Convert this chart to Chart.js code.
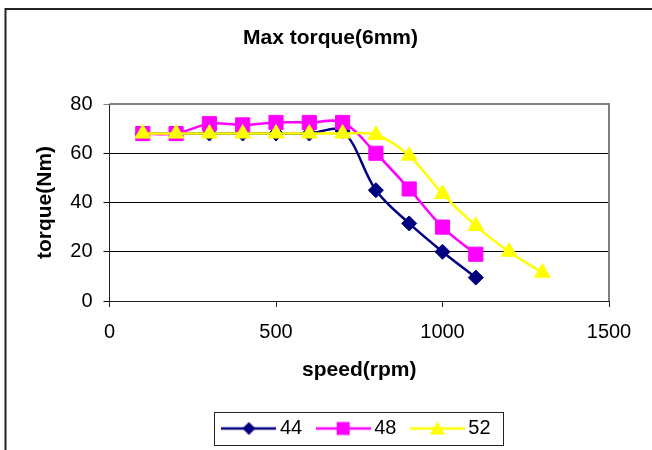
<!DOCTYPE html>
<html><head><meta charset="utf-8">
<script src="https://cdn.jsdelivr.net/npm/chart.js@4"></script>
<style>html,body{margin:0;padding:0;background:#fff;overflow:hidden;}canvas{display:block;}</style>
</head><body>
<canvas id="c" width="652" height="450"></canvas>
<script>
const chartTitle = 'Max torque(6mm)';
const xTitle = 'speed(rpm)';
const yTitle = 'torque(Nm)';
const seriesNames = ['44', '48', '52'];
const speed44 = [100, 200, 300, 400, 500, 600, 700, 800, 900, 1000, 1100];
const torque44 = [68, 68, 68, 68, 68, 68, 69, 45, 31.5, 20, 9.5];
const speed48 = [100, 200, 300, 400, 500, 600, 700, 800, 900, 1000, 1100];
const torque48 = [68, 68, 72, 71.5, 72.5, 72.5, 72.5, 60, 45.5, 30, 19];
const speed52 = [100, 200, 300, 400, 500, 600, 700, 800, 900, 1000, 1100, 1200, 1300];
const torque52 = [68, 68, 68, 68, 68, 68, 68, 67.5, 59, 43.5, 30.5, 20, 11.5];
const xTicks = [0, 500, 1000, 1500];
const yTicks = [0, 20, 40, 60, 80];

const colors = ['#000080', '#FF00FF', '#FFFF00'];
const styles = ['rectRot', 'rect', 'triangle'];
const radii = [7.5, 10, 9];
const FONT = "'Liberation Sans', Arial, sans-serif";

function toPoints(xs, ys) { return xs.map((x, i) => ({x: x, y: ys[i]})); }

function legendImage(i) {
  const cv = document.createElement('canvas');
  cv.width = 55; cv.height = 20;
  const g = cv.getContext('2d');
  g.strokeStyle = colors[i]; g.lineWidth = 2.5;
  g.beginPath(); g.moveTo(0, 10); g.lineTo(55, 10); g.stroke();
  g.fillStyle = colors[i];
  g.beginPath();
  if (i === 0) { g.moveTo(27.5, 3.5); g.lineTo(34, 10); g.lineTo(27.5, 16.5); g.lineTo(21, 10); }
  else if (i === 1) { g.rect(21, 3.5, 13, 13); }
  else { g.moveTo(27.5, 3); g.lineTo(35, 16); g.lineTo(20, 16); }
  g.closePath(); g.fill();
  return cv;
}
const legendImgs = [0, 1, 2].map(legendImage);

const framePlugin = {
  id: 'frame',
  beforeDraw(chart) {
    const ctx = chart.ctx;
    ctx.save();
    ctx.fillStyle = '#fff';
    ctx.fillRect(0, 0, chart.width, chart.height);
    ctx.strokeStyle = '#222';
    ctx.lineWidth = 2;
    ctx.beginPath();
    ctx.moveTo(5.5, 450); ctx.lineTo(5.5, 9); ctx.lineTo(652, 9);
    ctx.stroke();
    ctx.restore();
  },
  beforeDatasetsDraw(chart) {
    const a = chart.chartArea, ctx = chart.ctx;
    ctx.save();
    ctx.strokeStyle = '#808080';
    ctx.lineWidth = 2;
    ctx.beginPath();
    ctx.moveTo(a.left, a.top); ctx.lineTo(a.right, a.top); ctx.lineTo(a.right, a.bottom);
    ctx.stroke();
    ctx.restore();
  },
  afterDraw(chart) {
    const lg = chart.legend;
    if (!lg || !lg.legendHitBoxes || !lg.legendHitBoxes.length) return;
    const hb = lg.legendHitBoxes;
    const bw = 42;
    const first = hb[0], last = hb[hb.length - 1];
    const cy = first.top + first.height / 2;
    const x0 = first.left + bw / 2 - 27.5 - 7;
    const x1 = last.left + last.width + 13;
    const ctx = chart.ctx;
    ctx.save();
    ctx.strokeStyle = '#222';
    ctx.lineWidth = 1;
    ctx.strokeRect(Math.round(x0) + 0.5, Math.round(cy - 16.5) + 0.5, Math.round(x1 - x0), 33);
    ctx.restore();
  }
};

new Chart(document.getElementById('c'), {
  type: 'line',
  data: {
    datasets: [
      {label: seriesNames[0], data: toPoints(speed44, torque44)},
      {label: seriesNames[1], data: toPoints(speed48, torque48)},
      {label: seriesNames[2], data: toPoints(speed52, torque52)}
    ].map((d, i) => Object.assign(d, {
      borderColor: colors[i], backgroundColor: colors[i],
      pointBackgroundColor: colors[i], pointBorderColor: colors[i],
      pointStyle: styles[i], pointRadius: radii[i], pointBorderWidth: 1,
      borderWidth: 2.5, tension: 0.35, fill: false, order: 3 - i
    }))
  },
  options: {
    responsive: false,
    animation: false,
    layout: {padding: {left: 9, right: 0, top: 0, bottom: 1.5}},
    scales: {
      x: {
        type: 'linear', position: 'bottom', min: 0, max: 1500,
        afterBuildTicks: s => { s.ticks = xTicks.map(v => ({value: v})); },
        afterFit: s => { s.height = 97.5; },
        ticks: {color: '#000', font: {family: FONT, size: 20}, padding: 13, maxRotation: 0, callback: v => String(v)},
        grid: {drawOnChartArea: false, drawTicks: true, tickLength: 6, color: '#222'},
        border: {color: '#222', width: 1},
        title: {display: true, text: xTitle, color: '#000', font: {family: FONT, size: 21, weight: 'bold'}, padding: {top: 0, bottom: 15.9}}
      },
      y: {
        type: 'linear', position: 'left', min: 0, max: 80,
        afterBuildTicks: s => { s.ticks = yTicks.map(v => ({value: v})); },
        afterFit: s => { s.width = 100.5; },
        ticks: {color: '#000', font: {family: FONT, size: 20}, padding: 11, callback: v => String(v)},
        grid: {tickLength: 6, color: c => (c.tick && c.tick.value === 80) ? '#808080' : '#000', lineWidth: 1},
        border: {color: '#222', width: 1},
        title: {display: true, text: yTitle, color: '#000', font: {family: FONT, size: 21, weight: 'bold'}, padding: {top: 23.4, bottom: 0}}
      },
      yR: {
        type: 'linear', position: 'right', display: true,
        ticks: {display: false}, grid: {display: false}, border: {display: false},
        afterFit: s => { s.width = 43; }
      }
    },
    plugins: {
      title: {display: true, text: chartTitle, color: '#000', font: {family: FONT, size: 21, weight: 'bold'}, padding: {top: 25.4, bottom: 53.4}},
      legend: {
        display: true, position: 'bottom', fullSize: false,
        labels: {
          usePointStyle: true, pointStyleWidth: 42, padding: 20, color: '#000',
          font: {family: FONT, size: 20},
          generateLabels: chart => {
            const items = Chart.defaults.plugins.legend.labels.generateLabels(chart);
            items.sort((a, b) => a.datasetIndex - b.datasetIndex);
            items.forEach(it => { it.pointStyle = legendImgs[it.datasetIndex]; it.fontColor = '#000'; });
            return items;
          }
        }
      },
      tooltip: {enabled: false}
    }
  },
  plugins: [framePlugin]
});
</script>
</body></html>
